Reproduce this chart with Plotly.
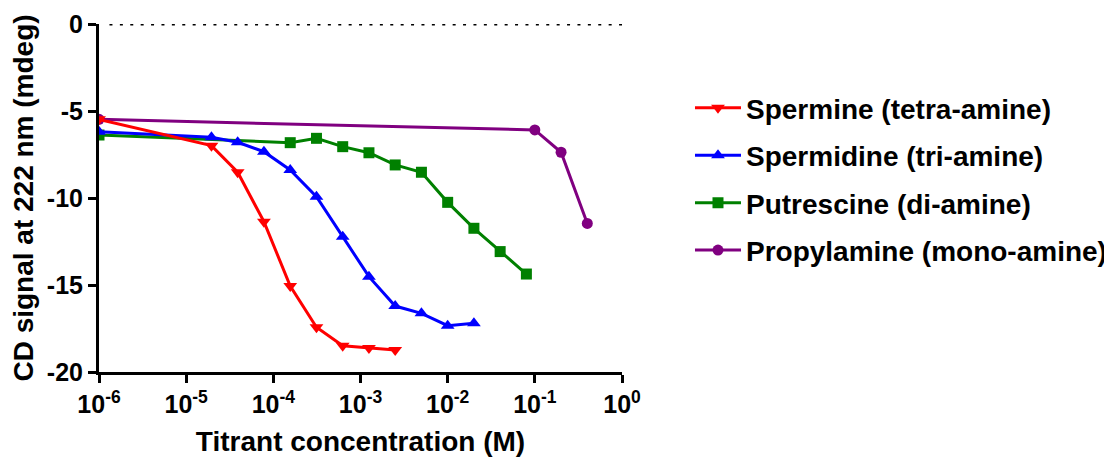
import plotly.graph_objects as go

# ---- data ----
spermine_x = [1e-6, 1.95e-5, 3.9e-5, 7.8e-5, 1.5625e-4, 3.125e-4, 6.25e-4, 1.25e-3, 2.5e-3]
spermine_y = [-5.48, -6.99, -8.52, -11.36, -15.06, -17.43, -18.49, -18.62, -18.74]

spermidine_x = [1e-6, 1.95e-5, 3.9e-5, 7.8e-5, 1.5625e-4, 3.125e-4, 6.25e-4, 1.25e-3,
                2.5e-3, 5e-3, 1e-2, 2e-2]
spermidine_y = [-6.19, -6.51, -6.80, -7.34, -8.39, -9.93, -12.22, -14.52,
                -16.21, -16.63, -17.34, -17.20]

putrescine_x = [1e-6, 1.5625e-4, 3.125e-4, 6.25e-4, 1.25e-3, 2.5e-3, 5e-3, 1e-2, 2e-2, 4e-2, 8e-2]
putrescine_y = [-6.38, -6.82, -6.57, -7.05, -7.40, -8.10, -8.52, -10.25, -11.74, -13.08, -14.37]

propylamine_x = [1e-6, 0.1, 0.2, 0.4]
propylamine_y = [-5.48, -6.09, -7.37, -11.46]

series_names = ["Spermine (tetra-amine)", "Spermidine (tri-amine)",
                "Putrescine (di-amine)", "Propylamine (mono-amine)"]
colors = ["#FF0000", "#0000FF", "#008000", "#800080"]
symbols = ["triangle-down", "triangle-up", "square", "circle"]
marker_sizes = [12, 12, 11, 11]

x_tickvals = [1e-6, 1e-5, 1e-4, 1e-3, 1e-2, 1e-1, 1e0]
x_ticktext = ["10<sup>-6</sup>", "10<sup>-5</sup>", "10<sup>-4</sup>", "10<sup>-3</sup>",
              "10<sup>-2</sup>", "10<sup>-1</sup>", "10<sup>0</sup>"]
y_tickvals = [0, -5, -10, -15, -20]
y_ticktext = ["0", "-5", "-10", "-15", "-20"]

FONT = "Liberation Sans, Arial, sans-serif"

fig = go.Figure()
all_x = [spermine_x, spermidine_x, putrescine_x, propylamine_x]
all_y = [spermine_y, spermidine_y, putrescine_y, propylamine_y]
# draw in reverse so Spermine ends on top; legend order fixed with legendrank
for i in reversed(range(4)):
    fig.add_trace(go.Scatter(
        x=all_x[i], y=all_y[i], name=series_names[i],
        mode="lines+markers",
        line=dict(color=colors[i], width=3),
        marker=dict(symbol=symbols[i], size=marker_sizes[i], color=colors[i]),
        legendgroup=str(i), legendrank=i + 1,
    ))

# zero reference dotted line
fig.add_shape(type="line", xref="paper", yref="y", x0=0.02, x1=1, y0=0, y1=0,
              line=dict(color="black", width=3, dash="3px,7.4px"), layer="below")

# page body has an 8px margin; figure is sized/offset accordingly
fig.update_layout(
    width=1104, height=451,
    margin=dict(l=91, r=490, t=16, b=87, autoexpand=False),
    paper_bgcolor="white", plot_bgcolor="white",
    font=dict(family=FONT, color="black", size=24, weight="bold"),
    showlegend=True,
    legend=dict(x=1.130, xanchor="left", y=0.83, yanchor="top",
                font=dict(family=FONT, size=28, color="black", weight="bold"),
                itemwidth=46, tracegroupgap=8, bgcolor="rgba(0,0,0,0)"),
    xaxis=dict(type="log", range=[-6, 0], tickvals=x_tickvals, ticktext=x_ticktext,
               showline=True, linecolor="black", linewidth=3,
               ticks="outside", ticklen=8, tickwidth=3, tickcolor="black",
               showgrid=False, zeroline=False,
               tickfont=dict(family=FONT, size=25, color="black", weight="bold"),
               title=dict(text="Titrant concentration (M)", standoff=15,
                          font=dict(family=FONT, size=28, color="black", weight="bold"))),
    yaxis=dict(range=[-20, 0], tickvals=y_tickvals, ticktext=y_ticktext,
               showline=True, linecolor="black", linewidth=3,
               ticks="outside", ticklen=8, tickwidth=3, tickcolor="black",
               showgrid=False, zeroline=False,
               tickfont=dict(family=FONT, size=25, color="black", weight="bold"),
               title=dict(text="CD signal at 222 nm (mdeg)", standoff=8,
                          font=dict(family=FONT, size=28, color="black", weight="bold"))),
)

fig.write_html("out.html")
